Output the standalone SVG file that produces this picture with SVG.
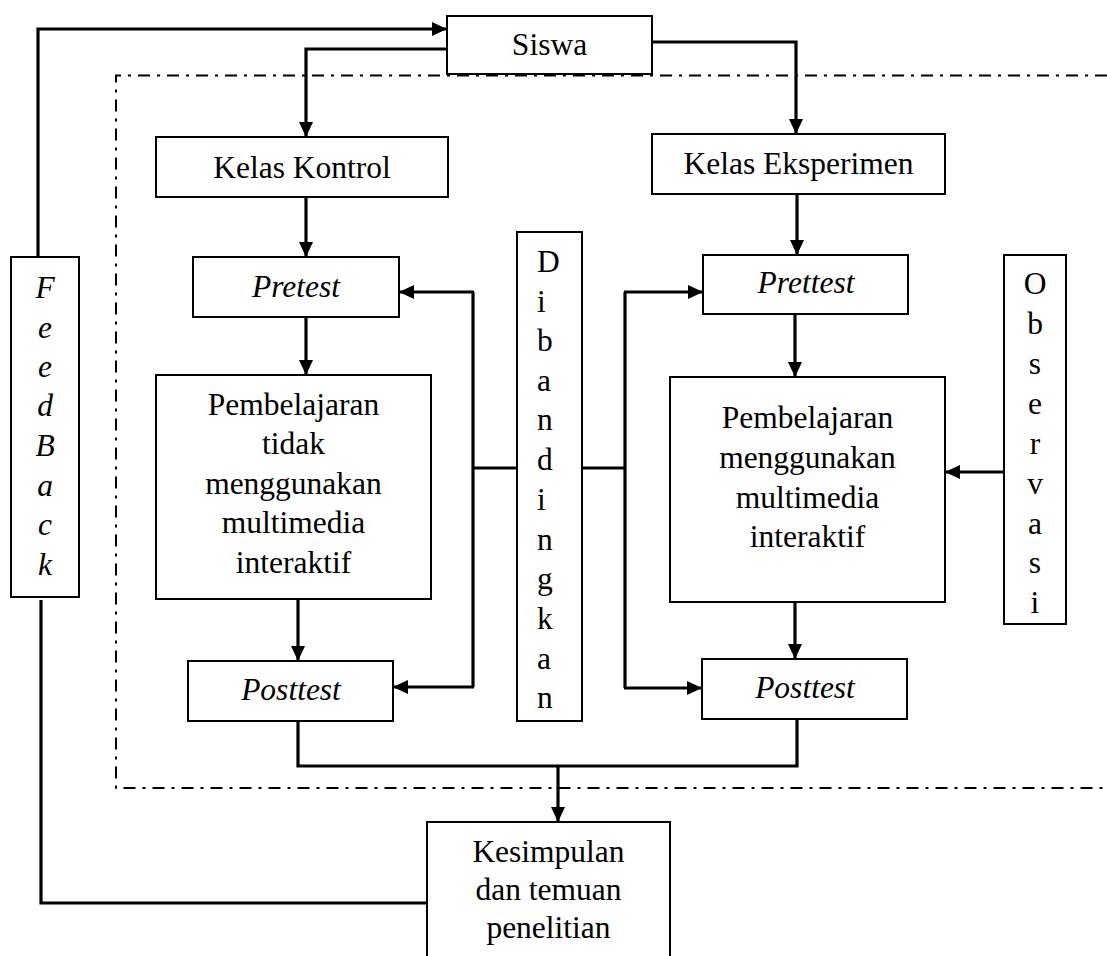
<svg xmlns="http://www.w3.org/2000/svg" width="1107" height="956" viewBox="0 0 1107 956">
<style>
.box{fill:#fff;stroke:#000;stroke-width:2}
.t{font-family:"Liberation Serif","Times New Roman",serif;font-size:31.5px;fill:#000}
.c{text-anchor:middle}
.i{font-style:italic}
.ln{fill:none;stroke:#000;stroke-width:3.2;stroke-linejoin:miter}
.ar{fill:none;stroke:#000;stroke-width:3.2;marker-end:url(#ah)}
.dash{fill:none;stroke:#000;stroke-width:2;stroke-dasharray:12 7 3 7}
</style>
<defs>
<marker id="ah" markerUnits="userSpaceOnUse" markerWidth="16" markerHeight="16" viewBox="0 0 16 16" refX="15" refY="8" orient="auto">
<path d="M0,1 L15,8 L0,15 z" fill="#000"/>
</marker>
</defs>
<rect width="1107" height="956" fill="#fff"/>
<path class="dash" d="M1107,75.5 H116 V788 H1107"/>
<g id="connectors">
<path class="ar" d="M38,257 V29 H447"/>
<path class="ar" d="M447,49 H306 V137"/>
<path class="ar" d="M652,42 H796 V134"/>
<path class="ar" d="M306,197 V257"/>
<path class="ar" d="M797,194 V255"/>
<path class="ar" d="M306,317 V375"/>
<path class="ar" d="M298,599 V661"/>
<path class="ar" d="M795,314 V377"/>
<path class="ar" d="M795,602 V659"/>
<path class="ln" d="M517,468 H473"/>
<path class="ln" d="M473,292 V687"/>
<path class="ar" d="M474,292 H399"/>
<path class="ar" d="M474,687 H393"/>
<path class="ln" d="M582,468 H625"/>
<path class="ln" d="M625,292 V688"/>
<path class="ar" d="M624,292 H703"/>
<path class="ar" d="M624,688 H702"/>
<path class="ar" d="M1004,472 H945"/>
<path class="ln" d="M298,721 V766 H797 V719"/>
<path class="ar" d="M558,766 V822"/>
<path class="ln" d="M41,600 V903 H427"/>
</g>
<g id="siswa">
<rect class="box" x="447" y="16" width="205" height="58"/>
<text class="t c" x="549.5" y="55">Siswa</text>
</g>
<g id="kelas-kontrol">
<rect class="box" x="156" y="137" width="292" height="60"/>
<text class="t c" x="302" y="178">Kelas Kontrol</text>
</g>
<g id="kelas-eksperimen">
<rect class="box" x="652" y="134" width="293" height="60"/>
<text class="t c" x="798.5" y="174">Kelas Eksperimen</text>
</g>
<g id="pretest">
<rect class="box" x="193" y="257" width="206" height="60"/>
<text class="t c i" x="296" y="297">Pretest</text>
</g>
<g id="prettest">
<rect class="box" x="703" y="255" width="205" height="59"/>
<text class="t c i" x="806" y="293">Prettest</text>
</g>
<g id="pembelajaran-kontrol">
<rect class="box" x="156" y="375" width="275" height="224"/>
<text class="t c" x="293.5" y="415">Pembelajaran<tspan x="293.5" y="454">tidak</tspan><tspan x="293.5" y="494">menggunakan</tspan><tspan x="293.5" y="533">multimedia</tspan><tspan x="293.5" y="573">interaktif</tspan></text>
</g>
<g id="pembelajaran-eksperimen">
<rect class="box" x="670" y="377" width="275" height="225"/>
<text class="t c" x="807.5" y="428">Pembelajaran<tspan x="807.5" y="468">menggunakan</tspan><tspan x="807.5" y="508">multimedia</tspan><tspan x="807.5" y="547">interaktif</tspan></text>
</g>
<g id="posttest-kontrol">
<rect class="box" x="188" y="661" width="205" height="60"/>
<text class="t c i" x="291" y="700">Posttest</text>
</g>
<g id="posttest-eksperimen">
<rect class="box" x="702" y="659" width="205" height="60"/>
<text class="t c i" x="805" y="698">Posttest</text>
</g>
<g id="feedback">
<rect class="box" x="11" y="257" width="68" height="340"/>
<text class="t c i" x="45" y="298">F<tspan x="45" y="338">e</tspan><tspan x="45" y="377">e</tspan><tspan x="45" y="416">d</tspan><tspan x="45" y="456">B</tspan><tspan x="45" y="496">a</tspan><tspan x="45" y="535">c</tspan><tspan x="45" y="575">k</tspan></text>
</g>
<g id="dibandingkan">
<rect class="box" x="517" y="232" width="65" height="489"/>
<text class="t" x="537" y="272">D<tspan x="537" y="312">i</tspan><tspan x="537" y="351">b</tspan><tspan x="537" y="391">a</tspan><tspan x="537" y="430">n</tspan><tspan x="537" y="470">d</tspan><tspan x="537" y="510">i</tspan><tspan x="537" y="550">n</tspan><tspan x="537" y="589">g</tspan><tspan x="537" y="629">k</tspan><tspan x="537" y="669">a</tspan><tspan x="537" y="708">n</tspan></text>
</g>
<g id="observasi">
<rect class="box" x="1004" y="255" width="62" height="369"/>
<text class="t c" x="1035" y="294">O<tspan x="1035" y="334">b</tspan><tspan x="1035" y="374">s</tspan><tspan x="1035" y="414">e</tspan><tspan x="1035" y="454">r</tspan><tspan x="1035" y="494">v</tspan><tspan x="1035" y="534">a</tspan><tspan x="1035" y="573">s</tspan><tspan x="1035" y="613">i</tspan></text>
</g>
<g id="kesimpulan">
<rect class="box" x="427" y="822" width="243" height="150"/>
<text class="t c" x="548.5" y="862">Kesimpulan<tspan x="548.5" y="900">dan temuan</tspan><tspan x="548.5" y="938">penelitian</tspan></text>
</g>
</svg>
